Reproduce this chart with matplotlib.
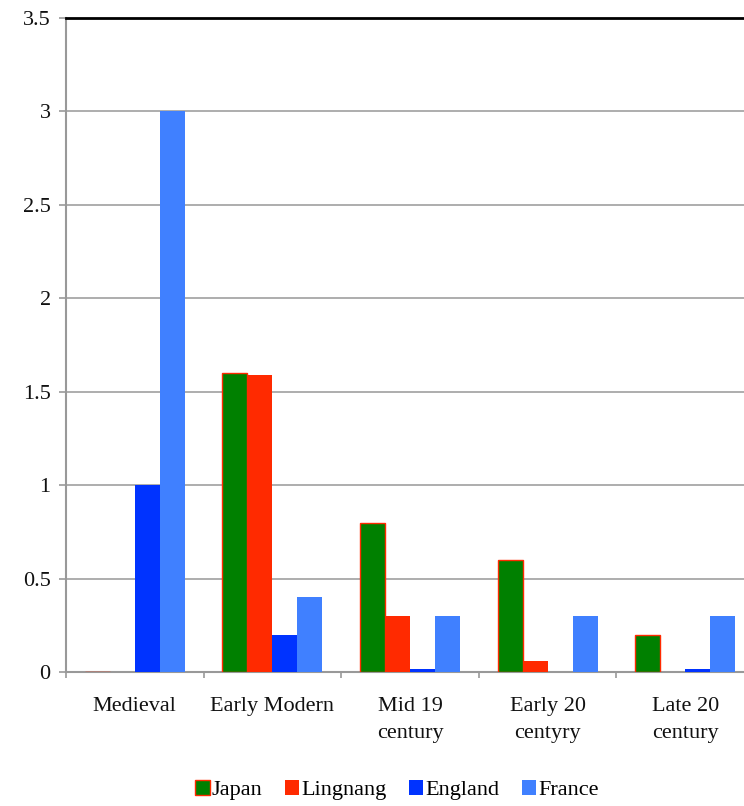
import numpy as np
import matplotlib.pyplot as plt

plt.rcParams['font.family'] = ['Liberation Serif', 'DejaVu Serif']

periods = ['Medieval', 'Early Modern', 'Mid 19\ncentury', 'Early 20\ncentyry', 'Late 20\ncentury']
japan = [0, 1.6, 0.8, 0.6, 0.2]
lingnang = [0, 1.59, 0.3, 0.06, 0]
england = [1.0, 0.2, 0.015, 0, 0.015]
france = [3.0, 0.4, 0.3, 0.3, 0.3]
yticks = [0, 0.5, 1, 1.5, 2, 2.5, 3, 3.5]
ylabels = ['0', '0.5', '1', '1.5', '2', '2.5', '3', '3.5']

series = [
    ('Japan', japan, '#008000', '#ff2a00'),
    ('Lingnang', lingnang, '#ff2a00', '#ff2a00'),
    ('England', england, '#0033ff', '#0033ff'),
    ('France', france, '#4080ff', '#4080ff'),
]

fig = plt.figure(figsize=(7.44, 8.06), dpi=100)
# axes runs past the right edge of the figure, like the original export
ax = fig.add_axes([66 / 744, 134 / 806, 688 / 744, 654 / 806])

x = np.arange(len(periods))
w = 0.182
for i, (name, vals, fc, ec) in enumerate(series):
    ax.bar(x + (i - 1.5) * w, vals, w, color=fc, edgecolor=ec,
           linewidth=1.0 if name == 'Japan' else 0, label=name, zorder=3)

ax.set_xlim(-0.5, len(periods) - 0.5)
ax.set_ylim(0, 3.5)
ax.set_yticks(yticks)
ax.set_yticklabels(ylabels)
ax.grid(axis='y', color='#a0a0a0', linewidth=1.2, zorder=0)

ax.set_xticks(x)
ax.set_xticklabels(periods, fontsize=16, color='#111111', linespacing=1.6)
ax.set_xticks(np.arange(len(periods) + 1) - 0.5, minor=True)
ax.tick_params(axis='x', which='major', length=0, pad=18)
ax.tick_params(axis='x', which='minor', length=4, color='#999999', width=1.2)
ax.tick_params(axis='y', length=5, color='#999999', width=1.2, labelsize=16,
               labelcolor='#111111', pad=6)

for side in ['left', 'bottom']:
    ax.spines[side].set_color('#999999')
    ax.spines[side].set_linewidth(1.5)
ax.spines['top'].set_color('black')
ax.spines['top'].set_linewidth(2)
ax.spines['right'].set_visible(False)

fig.legend(loc='center', bbox_to_anchor=(397 / 744, 16 / 806), ncol=4,
           frameon=False, fontsize=16, handlelength=0.65, handleheight=0.65,
           handletextpad=0.1, columnspacing=1.0)

fig.savefig('out.png', dpi=100)
